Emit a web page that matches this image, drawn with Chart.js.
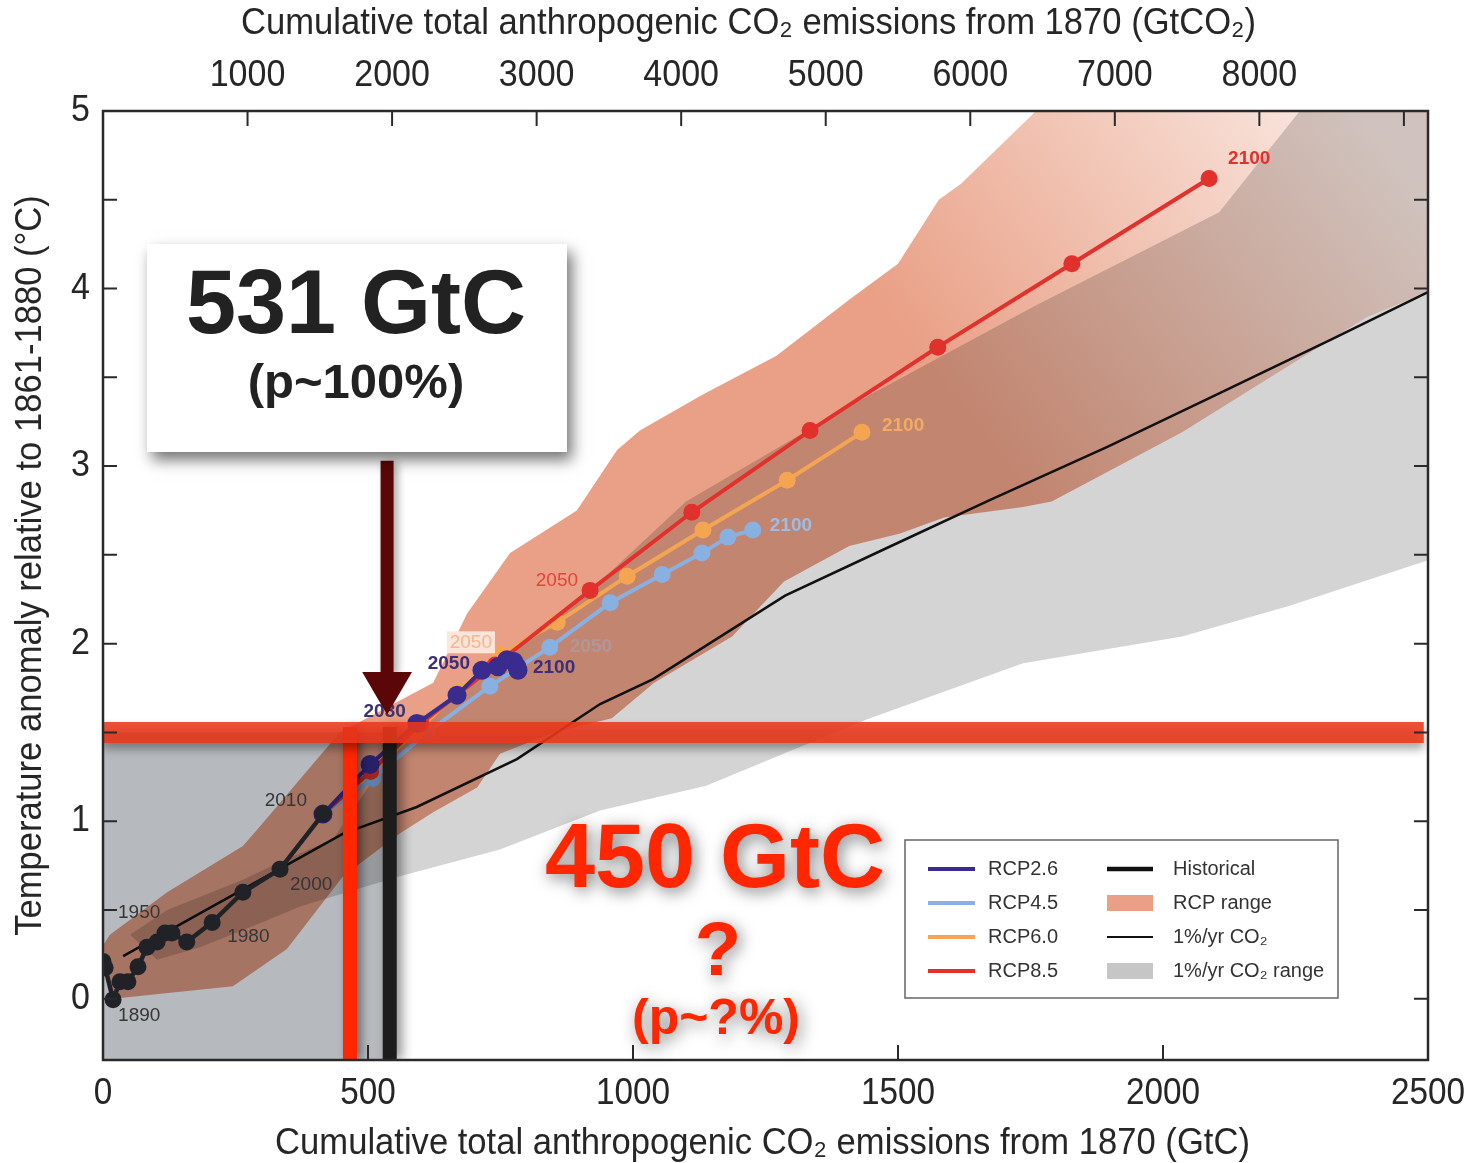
<!DOCTYPE html>
<html>
<head>
<meta charset="utf-8">
<title>Cumulative CO2 emissions and warming</title>
<script src="https://cdn.jsdelivr.net/npm/chart.js@4.4.1/dist/chart.umd.min.js"></script>
<style>
  html, body { margin:0; padding:0; background:#ffffff; }
  #wrap { position:relative; width:1465px; height:1163px; }
  canvas { display:block; }
</style>
</head>
<body>
<div id="wrap"><canvas id="chart" width="1465" height="1163"></canvas></div>
<script>
// ---------------- DATA ----------------
const historicalYears = [1870,1880,1890,1900,1910,1920,1930,1940,1950,1960,1970,1980,1990,2000,2010];
const historicalGtC   = [0,4,19,32,47,66,83,102,117,130,158,206,264,334,415];
const historicalTemp  = [0.21,0.175,-0.005,0.096,0.096,0.18,0.29,0.32,0.37,0.37,0.32,0.43,0.60,0.73,1.04];

const rcpYears  = [2010,2020,2030,2040,2050,2060,2070,2080,2090,2100];
const rcp26GtC  = [415,504,592,668,715,745,762,775,781,783];
const rcp26Temp = [1.04,1.32,1.55,1.71,1.85,1.87,1.91,1.90,1.87,1.85];
const rcp45GtC  = [415,509,612,730,843,957,1055,1130,1179,1226];
const rcp45Temp = [1.04,1.24,1.50,1.76,1.98,2.23,2.39,2.51,2.60,2.64];
const rcp60GtC  = [415,505,590,670,749,857,989,1132,1291,1432];
const rcp60Temp = [1.04,1.28,1.50,1.73,1.94,2.12,2.38,2.64,2.92,3.19];
const rcp85GtC  = [415,505,600,740,919,1111,1334,1575,1828,2087];
const rcp85Temp = [1.04,1.28,1.55,1.88,2.30,2.74,3.20,3.67,4.14,4.62];

const onePctGtC  = [38,453,592,781,938,1038,1287,1487,1674,1896,2106,2315,2500];
const onePctTemp = [0.24,0.93,1.08,1.35,1.66,1.80,2.27,2.55,2.81,3.11,3.41,3.71,3.98];

const rcpRangeUpperGtC  = [0,13,121,264,296,404,447,623,687,768,894,970,1013,1130,1270,1409,1500,1577,1619,1757,1850,2700];
const rcpRangeUpperTemp = [0.30,0.36,0.60,0.86,0.97,1.35,1.50,1.78,2.17,2.51,2.75,3.09,3.20,3.40,3.62,3.94,4.14,4.50,4.59,4.99,5.5,5.5];
const rcpRangeLowerGtC  = [19,245,347,453,560,623,706,749,850,960,1040,1187,1285,1408,1504,1587,1736,1790,2036,2385,2500,2700];
const rcpRangeLowerTemp = [0.0,0.07,0.28,0.69,0.93,1.05,1.19,1.38,1.50,1.58,1.78,2.04,2.35,2.55,2.62,2.71,2.77,2.80,3.19,3.84,3.98,4.25];

const onePctRangeUpperGtC  = [51,121,264,334,434,560,700,850,938,1100,1409,1757,2106,2258,2320,2700];
const onePctRangeUpperTemp = [0.36,0.50,0.67,0.77,0.90,1.45,1.80,2.15,2.35,2.80,3.34,3.90,4.43,5.0,5.5,5.5];
const onePctRangeLowerGtC  = [102,183,309,372,460,560,749,938,1138,1438,1736,2036,2236,2500,2700];
const onePctRangeLowerTemp = [0.22,0.29,0.44,0.52,0.60,0.69,0.84,1.06,1.20,1.57,1.89,2.04,2.21,2.47,2.62];

// annotation values (GtC / °C)
const targetTemp   = 1.5;
const budgetRedGtC = 466;     // "450 GtC" marker
const budgetBlkGtC = 541;     // "531 GtC" marker
const shadedGtC    = [0,541,541,0];
const shadedTemp   = [1.5,1.5,-0.345,-0.345];
const arrowGtC     = [536,536];
const arrowTemp    = [3.03,1.83];
const arrowHeadGtC = [489,583,536];
const arrowHeadTemp= [1.84,1.84,1.60];

// axes
const xMin = 0, xMax = 2500, yMin = -0.345, yMax = 5;
const gtcToGtco2 = 44 / 12;
const bottomTickLabels = [0,500,1000,1500,2000,2500];
const topTickLabels = [1000,2000,3000,4000,5000,6000,7000,8000];
const topTickMarks = [1000,2000,3000,4000,5000,6000,7000,8000,9000];
const yTickLabels = [0,1,2,3,4,5];
const yTickMarks = [0,0.5,1,1.5,2,2.5,3,3.5,4,4.5,5];
const bottomTickMarks = [500,1000,1500,2000];
const xTitleBottom = 'Cumulative total anthropogenic CO\u2082 emissions from 1870 (GtC)';
const xTitleTop = 'Cumulative total anthropogenic CO\u2082 emissions from 1870 (GtCO\u2082)';
const yTitle = 'Temperature anomaly relative to 1861-1880 (\u00B0C)';

// ---------------- HELPERS ----------------
const pts = (xs, ys) => xs.map((x, i) => ({x, y: ys[i]}));
const polygon = (upX, upY, loX, loY) => pts(upX, upY).concat(pts(loX, loY).reverse());

const SANS = "'Liberation Sans', Arial, Helvetica, sans-serif";
const AXIS_FONT = "37px " + SANS;
const axisColor = '#262626';

const C_RCP26 = '#3a2b8e', C_RCP45 = '#88b0e0', C_RCP60 = '#f4a551', C_RCP85 = '#e2302c', C_HIST = '#2c2f34';

function lineDs(label, data, color, order, extra) {
  return Object.assign({
    label, data, order,
    borderColor: color, backgroundColor: color,
    pointBackgroundColor: color, pointBorderWidth: 0,
    borderWidth: 4, pointRadius: 8.5, pointHoverRadius: 8.5,
    tension: 0, fill: false
  }, extra || {});
}
function polyDs(label, data, order, poly) {
  return {label, data, order, poly, showLine: false, pointRadius: 0, pointHoverRadius: 0, fill: false};
}

// ---------------- DRAWING PLUGIN ----------------
function drawPoly(chart, ds) {
  const {ctx, chartArea: ca} = chart;
  const xs = chart.scales.x, ys = chart.scales.y;
  ctx.save();
  ctx.beginPath();
  ctx.rect(ca.left, ca.top, ca.right - ca.left, ca.bottom - ca.top);
  ctx.clip();
  if (ds.poly.blend) ctx.globalCompositeOperation = ds.poly.blend;
  ctx.beginPath();
  ds.data.forEach((p, i) => {
    const px = xs.getPixelForValue(p.x), py = ys.getPixelForValue(p.y);
    if (i === 0) ctx.moveTo(px, py); else ctx.lineTo(px, py);
  });
  ctx.closePath();
  let fill = ds.poly.color;
  if (ds.poly.fade) {
    const f = ds.poly.fade;
    const g = ctx.createLinearGradient(xs.getPixelForValue(f.from[0]), ys.getPixelForValue(f.from[1]),
                                       xs.getPixelForValue(f.to[0]), ys.getPixelForValue(f.to[1]));
    g.addColorStop(0, f.c0); g.addColorStop(1, f.c1);
    fill = g;
  }
  if (ds.poly.shadow) Object.assign(ctx, ds.poly.shadow);
  ctx.fillStyle = fill;
  ctx.fill();
  ctx.restore();
}

function drawYearLabels(chart, index, ds) {
  const ctx = chart.ctx;
  const meta = chart.getDatasetMeta(index);
  ctx.save();
  ds.yearLabels.forEach(l => {
    const el = meta.data[l.i];
    if (!el) return;
    const x = el.x + l.dx, y = el.y + l.dy;
    ctx.font = (l.bold ? 'bold ' : '') + (l.size || 19) + 'px ' + SANS;
    ctx.textAlign = l.align; ctx.textBaseline = 'middle';
    if (l.box) {
      const w = ctx.measureText(l.t).width;
      const x0 = l.align === 'right' ? x - w : x;
      ctx.fillStyle = l.box;
      ctx.fillRect(x0 - 3, y - 11, w + 6, 22);
    }
    ctx.fillStyle = l.color;
    ctx.fillText(l.t, x, y);
  });
  ctx.restore();
}

function condText(ctx, text, x, y, align, sx, rot) {
  ctx.save();
  ctx.translate(x, y);
  if (rot) ctx.rotate(rot);
  ctx.scale(sx, 1);
  ctx.textAlign = align;
  ctx.fillText(text, 0, 0);
  ctx.restore();
}

function drawAxisText(chart) {
  const {ctx, chartArea: ca} = chart;
  const xs = chart.scales.x, x2 = chart.scales.x2, ys = chart.scales.y;
  ctx.save();
  ctx.fillStyle = axisColor;
  ctx.font = AXIS_FONT;
  ctx.textBaseline = 'middle';
  bottomTickLabels.forEach(v => condText(ctx, String(v), xs.getPixelForValue(v), ca.bottom + 34, 'center', 0.9));
  topTickLabels.forEach(v => condText(ctx, String(v), x2.getPixelForValue(v), ca.top - 35, 'center', 0.92));
  yTickLabels.forEach(v => condText(ctx, String(v), ca.left - 13, ys.getPixelForValue(v), 'right', 0.92));
  condText(ctx, xTitleBottom, (ca.left + ca.right) / 2 - 3, ca.bottom + 84, 'center', 0.935);
  condText(ctx, xTitleTop, (ca.left + ca.right) / 2 - 17, ca.top - 87, 'center', 0.935);
  condText(ctx, yTitle, 31, (ca.top + ca.bottom) / 2 - 20, 'center', 0.935, -Math.PI / 2);
  ctx.restore();
}

function drawFrame(chart) {
  const {ctx, chartArea: ca} = chart;
  const xs = chart.scales.x, x2 = chart.scales.x2, ys = chart.scales.y;
  ctx.save();
  ctx.strokeStyle = '#2a2a2a';
  ctx.lineWidth = 2.5;
  ctx.strokeRect(ca.left, ca.top, ca.right - ca.left, ca.bottom - ca.top);
  ctx.lineWidth = 2;
  ctx.beginPath();
  yTickMarks.forEach(v => {
    const py = ys.getPixelForValue(v);
    ctx.moveTo(ca.left, py); ctx.lineTo(ca.left + 14, py);
    ctx.moveTo(ca.right, py); ctx.lineTo(ca.right - 14, py);
  });
  bottomTickMarks.forEach(v => {
    const px = xs.getPixelForValue(v);
    ctx.moveTo(px, ca.bottom); ctx.lineTo(px, ca.bottom - 15);
  });
  topTickMarks.forEach(v => {
    const px = x2.getPixelForValue(v);
    ctx.moveTo(px, ca.top); ctx.lineTo(px, ca.top + 15);
  });
  ctx.stroke();
  ctx.restore();
}

function drawAnnotations(chart) {
  const ctx = chart.ctx;
  ctx.save();
  ctx.shadowColor = 'rgba(0,0,0,0.55)'; ctx.shadowBlur = 14; ctx.shadowOffsetX = 5; ctx.shadowOffsetY = 8;
  ctx.fillStyle = '#ffffff';
  ctx.fillRect(147, 244, 420, 208);
  ctx.restore();
  ctx.save();
  ctx.fillStyle = '#222222'; ctx.textAlign = 'center'; ctx.textBaseline = 'alphabetic';
  ctx.font = 'bold 90px ' + SANS; ctx.fillText('531 GtC', 356, 333);
  ctx.font = 'bold 49px ' + SANS; ctx.fillText('(p~100%)', 356, 398);
  ctx.restore();
  ctx.save();
  ctx.fillStyle = '#ff2600'; ctx.textAlign = 'center'; ctx.textBaseline = 'alphabetic';
  ctx.shadowColor = 'rgba(0,0,0,0.5)'; ctx.shadowBlur = 16; ctx.shadowOffsetX = 3; ctx.shadowOffsetY = 4;
  ctx.font = 'bold 90px ' + SANS; ctx.fillText('450 GtC', 715, 887);
  ctx.font = 'bold 76px ' + SANS; ctx.fillText('?', 718, 975);
  ctx.font = 'bold 50px ' + SANS; ctx.fillText('(p~?%)', 716, 1034);
  ctx.restore();
}

function drawLegend(chart) {
  const ctx = chart.ctx;
  ctx.save();
  ctx.fillStyle = '#ffffff';
  ctx.fillRect(905, 840, 433, 158);
  ctx.strokeStyle = '#666666'; ctx.lineWidth = 1.5;
  ctx.strokeRect(905, 840, 433, 158);
  const rows = [869, 903, 937, 971];
  const left = [['RCP2.6', C_RCP26], ['RCP4.5', C_RCP45], ['RCP6.0', C_RCP60], ['RCP8.5', C_RCP85]];
  ctx.font = '20px ' + SANS; ctx.textBaseline = 'middle'; ctx.textAlign = 'left';
  left.forEach((it, i) => {
    ctx.strokeStyle = it[1]; ctx.lineWidth = 4;
    ctx.beginPath(); ctx.moveTo(928, rows[i]); ctx.lineTo(975, rows[i]); ctx.stroke();
    ctx.fillStyle = '#333333'; ctx.fillText(it[0], 988, rows[i]);
  });
  ctx.strokeStyle = '#111111'; ctx.lineWidth = 4.5;
  ctx.beginPath(); ctx.moveTo(1107, rows[0]); ctx.lineTo(1153, rows[0]); ctx.stroke();
  ctx.fillStyle = '#e9a086'; ctx.fillRect(1107, rows[1] - 8, 46, 16);
  ctx.strokeStyle = '#111111'; ctx.lineWidth = 2;
  ctx.beginPath(); ctx.moveTo(1107, rows[2]); ctx.lineTo(1153, rows[2]); ctx.stroke();
  ctx.fillStyle = '#c6c6c6'; ctx.fillRect(1107, rows[3] - 8, 46, 16);
  ctx.fillStyle = '#333333';
  ctx.fillText('Historical', 1173, rows[0]);
  ctx.fillText('RCP range', 1173, rows[1]);
  ctx.fillText('1%/yr CO\u2082', 1173, rows[2]);
  ctx.fillText('1%/yr CO\u2082 range', 1173, rows[3]);
  ctx.restore();
}

const customPlugin = {
  id: 'customDraw',
  beforeDatasetDraw(chart, args) {
    const ds = chart.data.datasets[args.index];
    if (ds.poly) drawPoly(chart, ds);
    if (ds.shadow) { chart.ctx.save(); Object.assign(chart.ctx, ds.shadow); }
  },
  afterDatasetDraw(chart, args) {
    const ds = chart.data.datasets[args.index];
    if (ds.shadow) chart.ctx.restore();
    if (ds.yearLabels) drawYearLabels(chart, args.index, ds);
  },
  afterDatasetsDraw(chart) {
    drawFrame(chart);
    drawAxisText(chart);
    drawAnnotations(chart);
    drawLegend(chart);
  }
};

// ---------------- DATASETS ----------------
const HL = '#4a4a4a';
const datasets = [
  polyDs('1%/yr CO2 range', polygon(onePctRangeUpperGtC, onePctRangeUpperTemp, onePctRangeLowerGtC, onePctRangeLowerTemp), 100,
    {color: '#d4d4d4'}),
  polyDs('RCP range', polygon(rcpRangeUpperGtC, rcpRangeUpperTemp, rcpRangeLowerGtC, rcpRangeLowerTemp), 95,
    {blend: 'multiply', fade: {from: [1650, 3.2], to: [2400, 4.9], c0: 'rgba(233,160,134,1)', c1: 'rgba(233,160,134,0.22)'}}),
  lineDs('1%/yr CO2', pts(onePctGtC, onePctTemp), '#111111', 90, {borderWidth: 2.5, pointRadius: 0, pointHoverRadius: 0}),
  lineDs('RCP4.5', pts(rcp45GtC, rcp45Temp), C_RCP45, 85, {
    yearLabels: [
      {i: 4, t: '2050', dx: 20, dy: 0, align: 'left', color: 'rgba(150,182,226,0.35)', bold: true},
      {i: 9, t: '2100', dx: 17, dy: -4, align: 'left', color: '#9dbde6', bold: true}
    ]}),
  lineDs('RCP6.0', pts(rcp60GtC, rcp60Temp), C_RCP60, 80, {
    yearLabels: [
      {i: 4, t: '2050', dx: -8, dy: -12, align: 'right', color: '#f4b690', box: 'rgba(252,232,220,0.95)'},
      {i: 9, t: '2100', dx: 20, dy: -7, align: 'left', color: '#f3aa62', bold: true}
    ]}),
  lineDs('RCP8.5', pts(rcp85GtC, rcp85Temp), C_RCP85, 75, {
    yearLabels: [
      {i: 4, t: '2050', dx: -12, dy: -10, align: 'right', color: '#e2453a'},
      {i: 9, t: '2100', dx: 19, dy: -20, align: 'left', color: '#e2302c', bold: true}
    ]}),
  lineDs('RCP2.6', pts(rcp26GtC, rcp26Temp), C_RCP26, 70, {pointRadius: 9.5, pointHoverRadius: 9.5,
    yearLabels: [
      {i: 2, t: '2030', dx: -11, dy: -12, align: 'right', color: '#3d3370', bold: true},
      {i: 4, t: '2050', dx: -12, dy: -7, align: 'right', color: '#3d2d7a', bold: true},
      {i: 9, t: '2100', dx: 15, dy: -3, align: 'left', color: '#3d2d7a', bold: true}
    ]}),
  lineDs('Historical', pts(historicalGtC, historicalTemp), C_HIST, 65, {borderWidth: 4.5,
    yearLabels: [
      {i: 2, t: '1890', dx: 5, dy: 16, align: 'left', color: HL},
      {i: 8, t: '1950', dx: -47, dy: -20, align: 'left', color: HL},
      {i: 11, t: '1980', dx: 15, dy: 14, align: 'left', color: HL},
      {i: 13, t: '2000', dx: 10, dy: 16, align: 'left', color: HL},
      {i: 14, t: '2010', dx: -16, dy: -13, align: 'right', color: HL}
    ]}),
  polyDs('shaded', pts(shadedGtC, shadedTemp), 60, {color: 'rgb(182,185,189)', blend: 'multiply'}),
  lineDs('450 GtC', pts([budgetRedGtC, budgetRedGtC], [1.53, yMin]), '#ff2600', 55,
    {borderWidth: 14, pointRadius: 0, pointHoverRadius: 0, borderCapStyle: 'butt',
     shadow: {shadowColor: 'rgba(0,0,0,0.45)', shadowBlur: 10, shadowOffsetX: 4, shadowOffsetY: 0}}),
  lineDs('531 GtC', pts([budgetBlkGtC, budgetBlkGtC], [1.53, yMin]), '#1c1c1c', 50,
    {borderWidth: 14, pointRadius: 0, pointHoverRadius: 0, borderCapStyle: 'butt',
     shadow: {shadowColor: 'rgba(0,0,0,0.45)', shadowBlur: 12, shadowOffsetX: 5, shadowOffsetY: 0}}),
  lineDs('1.5 C', pts([0, 2492], [targetTemp, targetTemp]), 'rgba(236,56,28,0.88)', 45,
    {borderWidth: 21, pointRadius: 0, pointHoverRadius: 0, borderCapStyle: 'butt',
     shadow: {shadowColor: 'rgba(0,0,0,0.4)', shadowBlur: 10, shadowOffsetX: 0, shadowOffsetY: 6}}),
  lineDs('arrow', pts(arrowGtC, arrowTemp), '#5c0707', 40,
    {borderWidth: 13, pointRadius: 0, pointHoverRadius: 0, borderCapStyle: 'butt',
     shadow: {shadowColor: 'rgba(0,0,0,0.35)', shadowBlur: 8, shadowOffsetX: 4, shadowOffsetY: 2}}),
  polyDs('arrow head', pts(arrowHeadGtC, arrowHeadTemp), 35, {color: '#5c0707'})
];

// ---------------- CHART ----------------
const hiddenAxis = { grid: { display: false, drawTicks: false }, border: { display: false },
                     ticks: { display: false }, title: { display: false } };
new Chart(document.getElementById('chart'), {
  type: 'line',
  data: { datasets },
  plugins: [customPlugin],
  options: {
    responsive: false,
    animation: false,
    events: [],
    layout: { padding: { left: 0, right: 37, top: 0, bottom: 0 } },
    plugins: { legend: { display: false }, tooltip: { enabled: false } },
    scales: {
      x: Object.assign({ type: 'linear', position: 'bottom', min: xMin, max: xMax,
        afterFit: s => { s.height = 103; s.paddingLeft = 0; s.paddingRight = 0; } }, hiddenAxis),
      x2: Object.assign({ type: 'linear', position: 'top', min: xMin * gtcToGtco2, max: xMax * gtcToGtco2,
        afterFit: s => { s.height = 111; s.paddingLeft = 0; s.paddingRight = 0; } }, hiddenAxis),
      y: Object.assign({ type: 'linear', position: 'left', min: yMin, max: yMax,
        afterFit: s => { s.width = 103; s.paddingTop = 0; s.paddingBottom = 0; } }, hiddenAxis)
    }
  }
});
</script>
</body>
</html>
